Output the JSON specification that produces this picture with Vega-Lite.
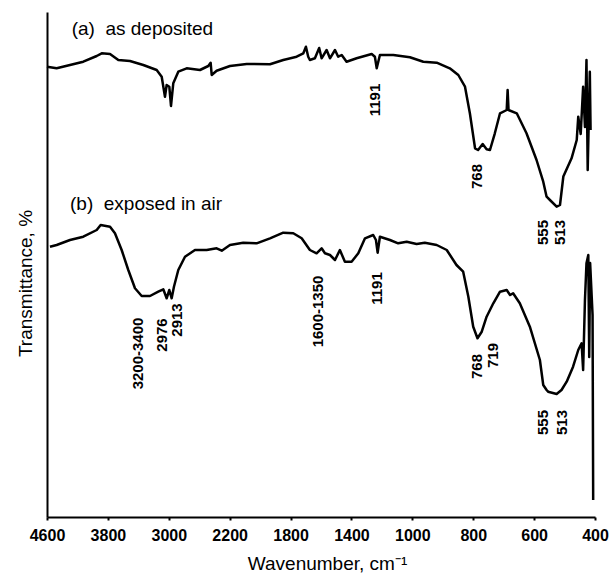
{
  "$schema": "https://vega.github.io/schema/vega-lite/v6.json",
  "width": 548,
  "height": 505,
  "autosize": {"type": "none"},
  "padding": {"left": 47, "top": 12, "right": 15, "bottom": 58},
  "background": "white",
  "config": {"view": {"stroke": null}, "font": "Liberation Sans"},
  "datasets": {
    "spectra": [
      {"series": "a", "wn": 4600, "T": 450.3}, {"series": "a", "wn": 4473, "T": 448.7}, {"series": "a", "wn": 4298, "T": 452},
      {"series": "a", "wn": 4123, "T": 455.3}, {"series": "a", "wn": 3947, "T": 461}, {"series": "a", "wn": 3881, "T": 463.7},
      {"series": "a", "wn": 3772, "T": 463}, {"series": "a", "wn": 3663, "T": 457}, {"series": "a", "wn": 3510, "T": 456},
      {"series": "a", "wn": 3335, "T": 452}, {"series": "a", "wn": 3159, "T": 447}, {"series": "a", "wn": 3093, "T": 440.3},
      {"series": "a", "wn": 3050, "T": 420.3}, {"series": "a", "wn": 3028, "T": 432}, {"series": "a", "wn": 2993, "T": 430.3},
      {"series": "a", "wn": 2971, "T": 411}, {"series": "a", "wn": 2941, "T": 433.7}, {"series": "a", "wn": 2875, "T": 445.3},
      {"series": "a", "wn": 2765, "T": 448.7}, {"series": "a", "wn": 2590, "T": 447}, {"series": "a", "wn": 2481, "T": 451},
      {"series": "a", "wn": 2450, "T": 454.3}, {"series": "a", "wn": 2436, "T": 442}, {"series": "a", "wn": 2371, "T": 446.3},
      {"series": "a", "wn": 2198, "T": 451}, {"series": "a", "wn": 2088, "T": 453}, {"series": "a", "wn": 1935, "T": 452.7},
      {"series": "a", "wn": 1848, "T": 457}, {"series": "a", "wn": 1760, "T": 460.3}, {"series": "a", "wn": 1716, "T": 463.7},
      {"series": "a", "wn": 1699, "T": 470.3}, {"series": "a", "wn": 1684, "T": 460.3}, {"series": "a", "wn": 1673, "T": 457},
      {"series": "a", "wn": 1640, "T": 458.7}, {"series": "a", "wn": 1612, "T": 469}, {"series": "a", "wn": 1596, "T": 458.7},
      {"series": "a", "wn": 1563, "T": 467}, {"series": "a", "wn": 1541, "T": 458.7}, {"series": "a", "wn": 1508, "T": 467},
      {"series": "a", "wn": 1487, "T": 460.3}, {"series": "a", "wn": 1464, "T": 462}, {"series": "a", "wn": 1432, "T": 455.3},
      {"series": "a", "wn": 1366, "T": 458.7}, {"series": "a", "wn": 1267, "T": 463}, {"series": "a", "wn": 1246, "T": 460.3},
      {"series": "a", "wn": 1234, "T": 448.7}, {"series": "a", "wn": 1213, "T": 462}, {"series": "a", "wn": 1125, "T": 462},
      {"series": "a", "wn": 1016, "T": 459.7}, {"series": "a", "wn": 964, "T": 455.3}, {"series": "a", "wn": 920, "T": 454.3},
      {"series": "a", "wn": 877, "T": 448.7}, {"series": "a", "wn": 849, "T": 442}, {"series": "a", "wn": 827, "T": 430.3},
      {"series": "a", "wn": 811, "T": 403.7}, {"series": "a", "wn": 794, "T": 368.7}, {"series": "a", "wn": 784, "T": 367},
      {"series": "a", "wn": 769, "T": 373}, {"series": "a", "wn": 756, "T": 367.7}, {"series": "a", "wn": 745, "T": 367},
      {"series": "a", "wn": 729, "T": 383.7}, {"series": "a", "wn": 712, "T": 403.7}, {"series": "a", "wn": 690, "T": 407},
      {"series": "a", "wn": 687, "T": 427}, {"series": "a", "wn": 684, "T": 407}, {"series": "a", "wn": 657, "T": 403.7},
      {"series": "a", "wn": 625, "T": 383.7}, {"series": "a", "wn": 592, "T": 357}, {"series": "a", "wn": 570, "T": 335.3},
      {"series": "a", "wn": 559, "T": 320.3}, {"series": "a", "wn": 548, "T": 317}, {"series": "a", "wn": 526, "T": 310.3},
      {"series": "a", "wn": 515, "T": 312}, {"series": "a", "wn": 504, "T": 340.5}, {"series": "a", "wn": 477, "T": 358.7},
      {"series": "a", "wn": 460, "T": 377}, {"series": "a", "wn": 455, "T": 400.3}, {"series": "a", "wn": 447, "T": 383},
      {"series": "a", "wn": 439, "T": 430.3}, {"series": "a", "wn": 433, "T": 390}, {"series": "a", "wn": 428, "T": 457},
      {"series": "a", "wn": 424, "T": 347}, {"series": "a", "wn": 417, "T": 445.3}, {"series": "a", "wn": 414.5, "T": 387},

      {"series": "b", "wn": 4561, "T": 270.3}, {"series": "b", "wn": 4473, "T": 272}, {"series": "b", "wn": 4298, "T": 277},
      {"series": "b", "wn": 4123, "T": 280.3}, {"series": "b", "wn": 3947, "T": 287}, {"series": "b", "wn": 3895, "T": 292},
      {"series": "b", "wn": 3772, "T": 290.3}, {"series": "b", "wn": 3707, "T": 283.7}, {"series": "b", "wn": 3619, "T": 267},
      {"series": "b", "wn": 3532, "T": 247}, {"series": "b", "wn": 3444, "T": 228.7}, {"series": "b", "wn": 3356, "T": 221},
      {"series": "b", "wn": 3247, "T": 221}, {"series": "b", "wn": 3138, "T": 225.3}, {"series": "b", "wn": 3072, "T": 227.7},
      {"series": "b", "wn": 3028, "T": 218.7}, {"series": "b", "wn": 2993, "T": 227}, {"series": "b", "wn": 2962, "T": 218.7},
      {"series": "b", "wn": 2932, "T": 230.3}, {"series": "b", "wn": 2875, "T": 247}, {"series": "b", "wn": 2787, "T": 260.3},
      {"series": "b", "wn": 2656, "T": 267}, {"series": "b", "wn": 2502, "T": 267}, {"series": "b", "wn": 2371, "T": 268.7},
      {"series": "b", "wn": 2304, "T": 266.3}, {"series": "b", "wn": 2198, "T": 272}, {"series": "b", "wn": 2111, "T": 274.3},
      {"series": "b", "wn": 2023, "T": 273.7}, {"series": "b", "wn": 1935, "T": 278.7}, {"series": "b", "wn": 1848, "T": 284.3},
      {"series": "b", "wn": 1782, "T": 283.7}, {"series": "b", "wn": 1727, "T": 278.7}, {"series": "b", "wn": 1673, "T": 267},
      {"series": "b", "wn": 1629, "T": 263.7}, {"series": "b", "wn": 1596, "T": 268.7}, {"series": "b", "wn": 1574, "T": 263.7},
      {"series": "b", "wn": 1541, "T": 262}, {"series": "b", "wn": 1508, "T": 257}, {"series": "b", "wn": 1476, "T": 267},
      {"series": "b", "wn": 1443, "T": 255.3}, {"series": "b", "wn": 1399, "T": 255.3}, {"series": "b", "wn": 1355, "T": 263.7},
      {"series": "b", "wn": 1311, "T": 278.7}, {"series": "b", "wn": 1257, "T": 282}, {"series": "b", "wn": 1239, "T": 277},
      {"series": "b", "wn": 1228, "T": 264.3}, {"series": "b", "wn": 1213, "T": 280.3}, {"series": "b", "wn": 1147, "T": 277},
      {"series": "b", "wn": 1093, "T": 273.7}, {"series": "b", "wn": 1037, "T": 275.3}, {"series": "b", "wn": 986, "T": 273},
      {"series": "b", "wn": 959, "T": 274.3}, {"series": "b", "wn": 920, "T": 272}, {"series": "b", "wn": 887, "T": 267},
      {"series": "b", "wn": 855, "T": 252}, {"series": "b", "wn": 833, "T": 245.3}, {"series": "b", "wn": 816, "T": 220.3},
      {"series": "b", "wn": 800, "T": 190.3}, {"series": "b", "wn": 786, "T": 178.7}, {"series": "b", "wn": 772, "T": 185.3},
      {"series": "b", "wn": 756, "T": 200.3}, {"series": "b", "wn": 734, "T": 213.7}, {"series": "b", "wn": 712, "T": 225.3},
      {"series": "b", "wn": 690, "T": 227}, {"series": "b", "wn": 679, "T": 222}, {"series": "b", "wn": 669, "T": 223.7},
      {"series": "b", "wn": 647, "T": 213.7}, {"series": "b", "wn": 614, "T": 190.3}, {"series": "b", "wn": 581, "T": 157},
      {"series": "b", "wn": 570, "T": 132}, {"series": "b", "wn": 559, "T": 127}, {"series": "b", "wn": 554, "T": 125.3},
      {"series": "b", "wn": 526, "T": 123}, {"series": "b", "wn": 510, "T": 127}, {"series": "b", "wn": 493, "T": 135.3},
      {"series": "b", "wn": 472, "T": 150.3}, {"series": "b", "wn": 455, "T": 167}, {"series": "b", "wn": 444, "T": 173.7},
      {"series": "b", "wn": 439, "T": 147}, {"series": "b", "wn": 433, "T": 217}, {"series": "b", "wn": 428, "T": 253.7},
      {"series": "b", "wn": 422, "T": 262}, {"series": "b", "wn": 419, "T": 160}, {"series": "b", "wn": 416, "T": 254},
      {"series": "b", "wn": 408, "T": 202}, {"series": "b", "wn": 406, "T": 17}
    ],
    "peaks": [
      {"label": "1191", "wn": 1246, "T": 417},
      {"label": "768", "wn": 789, "T": 340.5},
      {"label": "555", "wn": 570, "T": 284.5},
      {"label": "513", "wn": 515, "T": 284.5},
      {"label": "3200-3400", "wn": 3401, "T": 163.5},
      {"label": "2976", "wn": 3093, "T": 182},
      {"label": "2913", "wn": 2896, "T": 197},
      {"label": "1600-1350", "wn": 1618, "T": 205.5},
      {"label": "1191", "wn": 1234, "T": 228.5},
      {"label": "768", "wn": 789, "T": 150.5},
      {"label": "719", "wn": 734, "T": 161.5},
      {"label": "555", "wn": 570, "T": 94.5},
      {"label": "513", "wn": 510, "T": 94.5}
    ],
    "captions": [
      {"text": "(a)\u00a0 as deposited", "wn": 4276, "T": 482},
      {"text": "(b)\u00a0 exposed in air", "wn": 4298, "T": 307}
    ]
  },
  "encoding": {
    "x": {
      "field": "wn", "type": "quantitative",
      "scale": {"domain": [4600, 2200, 1000, 400], "range": [0, 182.667, 365.333, 548], "nice": false, "zero": false},
      "axis": {
        "values": [4600, 3800, 3000, 2200, 1800, 1400, 1000, 800, 600, 400],
        "format": "d", "grid": false,
        "domainColor": "black", "domainWidth": 2,
        "tickColor": "black", "tickSize": 3, "tickWidth": 2,
        "labelFont": "Liberation Sans", "labelFontSize": 16, "labelFontWeight": "bold", "labelColor": "black",
        "labelPadding": 7, "labelFlush": false, "labelOverlap": false,
        "title": "Wavenumber, cm\u207b\u00b9",
        "titleFont": "Liberation Sans", "titleFontSize": 19, "titleFontWeight": "normal", "titleColor": "black",
        "titleX": 280, "titleY": 37, "titleBaseline": "top", "titleAlign": "center"
      }
    },
    "y": {
      "field": "T", "type": "quantitative",
      "scale": {"domain": [0, 505], "nice": false, "zero": false},
      "axis": {
        "ticks": false, "labels": false, "grid": false,
        "domainColor": "black", "domainWidth": 2,
        "title": "Transmittance, %",
        "titleFont": "Liberation Sans", "titleFontSize": 19, "titleFontWeight": "normal", "titleColor": "black",
        "titleAngle": 270, "titleX": -21.5, "titleY": 271, "titleBaseline": "middle", "titleAlign": "center"
      }
    }
  },
  "layer": [
    {
      "data": {"name": "spectra"},
      "mark": {"type": "line", "color": "black", "strokeWidth": 2.5, "strokeJoin": "round"},
      "encoding": {"detail": {"field": "series"}}
    },
    {
      "data": {"name": "peaks"},
      "mark": {"type": "text", "angle": 270, "align": "center", "baseline": "middle", "font": "Liberation Sans", "fontSize": 15, "fontWeight": "bold", "color": "black"},
      "encoding": {"text": {"field": "label"}}
    },
    {
      "data": {"name": "captions"},
      "mark": {"type": "text", "align": "left", "baseline": "alphabetic", "font": "Liberation Sans", "fontSize": 19, "color": "black"},
      "encoding": {"text": {"field": "text"}}
    }
  ]
}
